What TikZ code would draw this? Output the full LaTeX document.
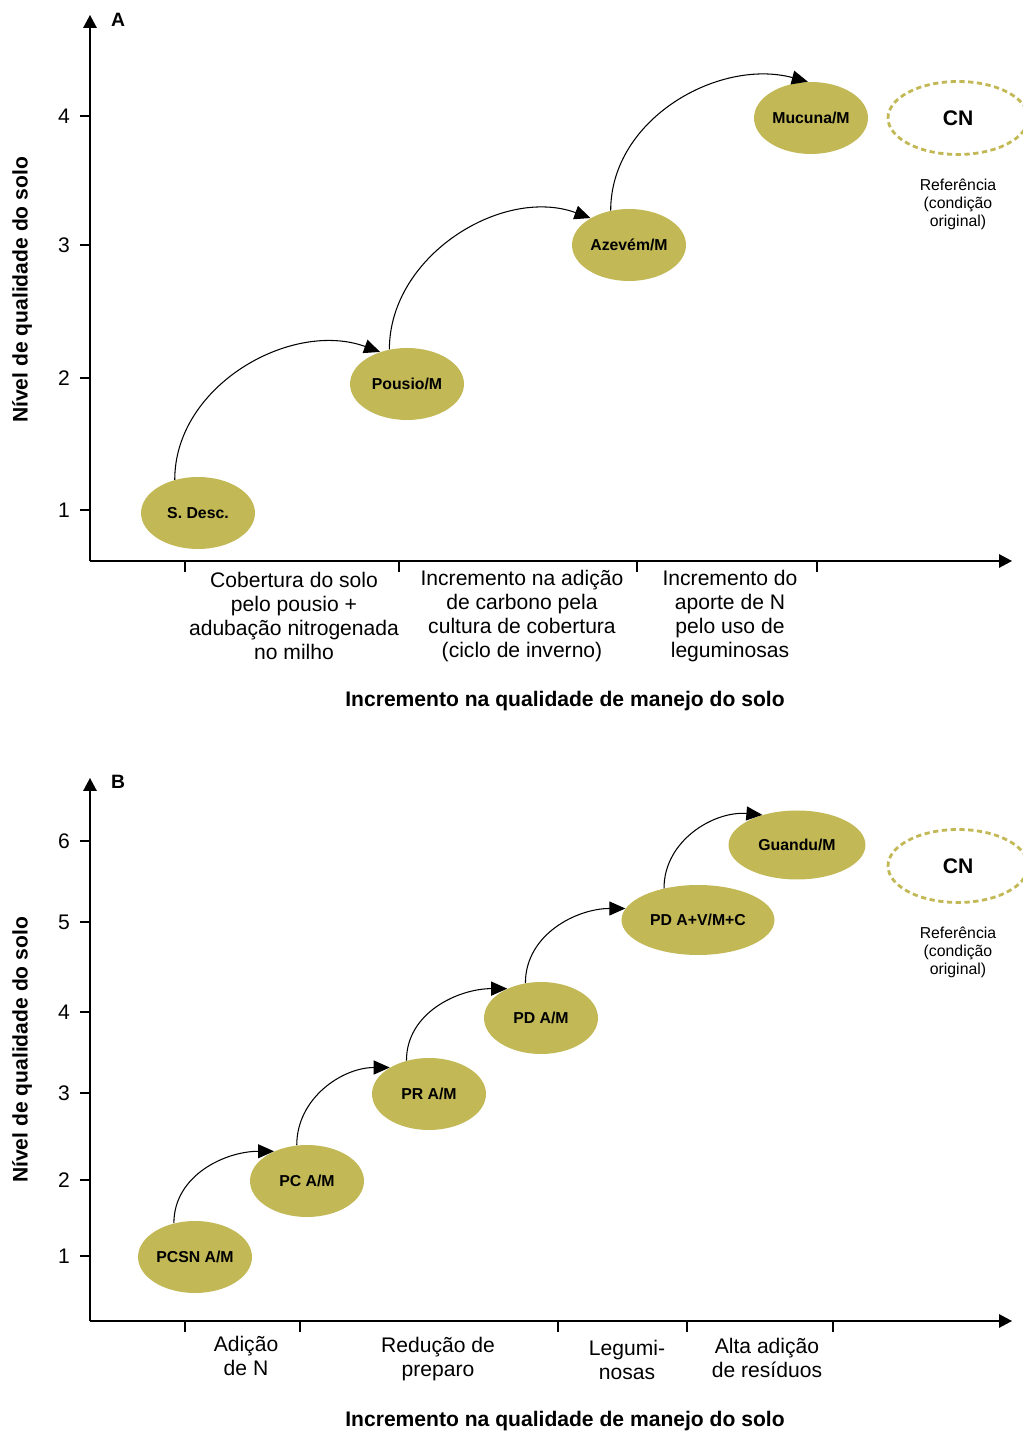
\documentclass[tikz,border=0pt]{standalone}
\usepackage{fontspec}
\setmainfont{Liberation Sans}
\usetikzlibrary{arrows.meta,shapes.geometric}
\definecolor{oliva}{RGB}{194,184,86}

\begin{document}
\begin{tikzpicture}[x=0.02cm,y=0.02cm,
    eixo/.style={line width=0.85pt,-{Triangle[length=0.26cm,width=0.27cm]}},
    traco/.style={line width=0.7pt},
    seta/.style={line width=0.6pt,-{Triangle[length=0.32cm,width=0.28cm]}},
    etapa/.style={ellipse,fill=oliva,inner sep=0pt,minimum width=2.28cm,minimum height=1.44cm,
        font=\fontsize{9}{10}\selectfont\bfseries},
    ref/.style={ellipse,draw=oliva,line width=1.6pt,dash pattern=on 3pt off 2pt,inner sep=0pt,
        minimum width=2.8cm,minimum height=1.46cm,font=\fontsize{12}{14}\selectfont\bfseries},
    reftxt/.style={align=center,font=\fontsize{9}{10.2}\selectfont},
    categ/.style={align=center,font=\fontsize{12}{13.6}\selectfont},
    titulo/.style={font=\fontsize{12}{14}\selectfont\bfseries},
    letra/.style={font=\fontsize{11}{13}\selectfont\bfseries},
    num/.style={anchor=east,font=\fontsize{12}{14}\selectfont}]
    \useasboundingbox (0,0) rectangle (1023,1433);

    % painel A
    \coordinate (oA) at (90,872);
    \coordinate (yA) at (90,1418);
    \coordinate (xA) at (1012,872);
    \draw[eixo] (oA) -- (yA);
    \draw[eixo] (oA) -- (xA);
    \node[letra] (letraA) at (118,1413) {A};
    \foreach \n/\y in {4/1317,3/1188,2/1055,1/923} {
        \draw[traco] (80,\y) -- (90,\y);
        \node[num] (nA\n) at (76,\y) {\n};
    }
    \foreach \x in {185,399,637,817}
        \draw[traco] (\x,872) -- (\x,861);

    \node[etapa] (sdesc) at (198,920) {S. Desc.};
    \node[etapa] (pousio) at (407,1049) {Pousio/M};
    \node[etapa] (azevem) at (629,1188) {Azevém/M};
    \node[etapa] (mucuna) at (811,1315) {Mucuna/M};
    \node[ref] (cnA) at (958,1315) {CN};
    \node[reftxt] (refA) at (958,1229) {Referência\\(condição\\original)};

    \draw[seta] (sdesc.125) to[out=90,in=160] (pousio.130);
    \draw[seta] (pousio.117) to[out=90,in=160] (azevem.145);
    \draw[seta] (azevem.118) to[out=90,in=165] (mucuna.95);

    \node[categ] (catA1) at (294,817) {Cobertura do solo\\pelo pousio +\\adubação nitrogenada\\no milho};
    \node[categ] (catA2) at (522,817) {Incremento na adição\\de carbono pela\\cultura de cobertura\\(ciclo de inverno)};
    \node[categ] (catA3) at (730,817) {Incremento do\\aporte de N\\pelo uso de\\leguminosas};
    \node[titulo] (xtitA) at (565,732) {Incremento na qualidade de manejo do solo};
    \node[titulo,rotate=90] (ytitA) at (22,1143) {Nível de qualidade do solo};

    % painel B
    \coordinate (oB) at (90,112);
    \coordinate (yB) at (90,655);
    \coordinate (xB) at (1012,112);
    \draw[eixo] (oB) -- (yB);
    \draw[eixo] (oB) -- (xB);
    \node[letra] (letraB) at (118,651) {B};
    \foreach \n/\y in {6/592,5/511,4/421,3/340,2/253,1/177} {
        \draw[traco] (80,\y) -- (90,\y);
        \node[num] (nB\n) at (76,\y) {\n};
    }
    \foreach \x in {185,300,558,687,833}
        \draw[traco] (\x,112) -- (\x,101);

    \node[etapa] (pcsn) at (195,176) {PCSN A/M};
    \node[etapa] (pc) at (307,252) {PC A/M};
    \node[etapa] (pr) at (429,339) {PR A/M};
    \node[etapa] (pd) at (541,415) {PD A/M};
    \node[etapa,minimum width=3.06cm,minimum height=1.4cm] (pdavmc) at (698,513) {PD A+V/M+C};
    \node[etapa,minimum width=2.74cm,minimum height=1.38cm] (guandu) at (797,588) {Guandu/M};
    \node[ref] (cnB) at (958,567) {CN};
    \node[reftxt] (refB) at (958,481) {Referência\\(condição\\original)};

    \draw[seta] (pcsn.122) to[out=90,in=180] (pc.138);
    \draw[seta] (pc.106) to[out=90,in=180] (pr.146);
    \draw[seta] (pr.124) to[out=90,in=180] (pd.139);
    \draw[seta] (pd.114) to[out=90,in=180] (pdavmc.171);
    \draw[seta] (pdavmc.137) to[out=90,in=175] (guandu.139);

    \node[categ] (catB1) at (246,77) {Adição\\de N};
    \node[categ] (catB2) at (438,74) {Redução de\\preparo};
    \node[categ] (catB3) at (627,73) {Legumi-\\nosas};
    \node[categ] (catB4) at (767,75) {Alta adição\\de resíduos};
    \node[titulo] (xtitB) at (565,12) {Incremento na qualidade de manejo do solo};
    \node[titulo,rotate=90] (ytitB) at (22,383) {Nível de qualidade do solo};
\end{tikzpicture}
\end{document}
